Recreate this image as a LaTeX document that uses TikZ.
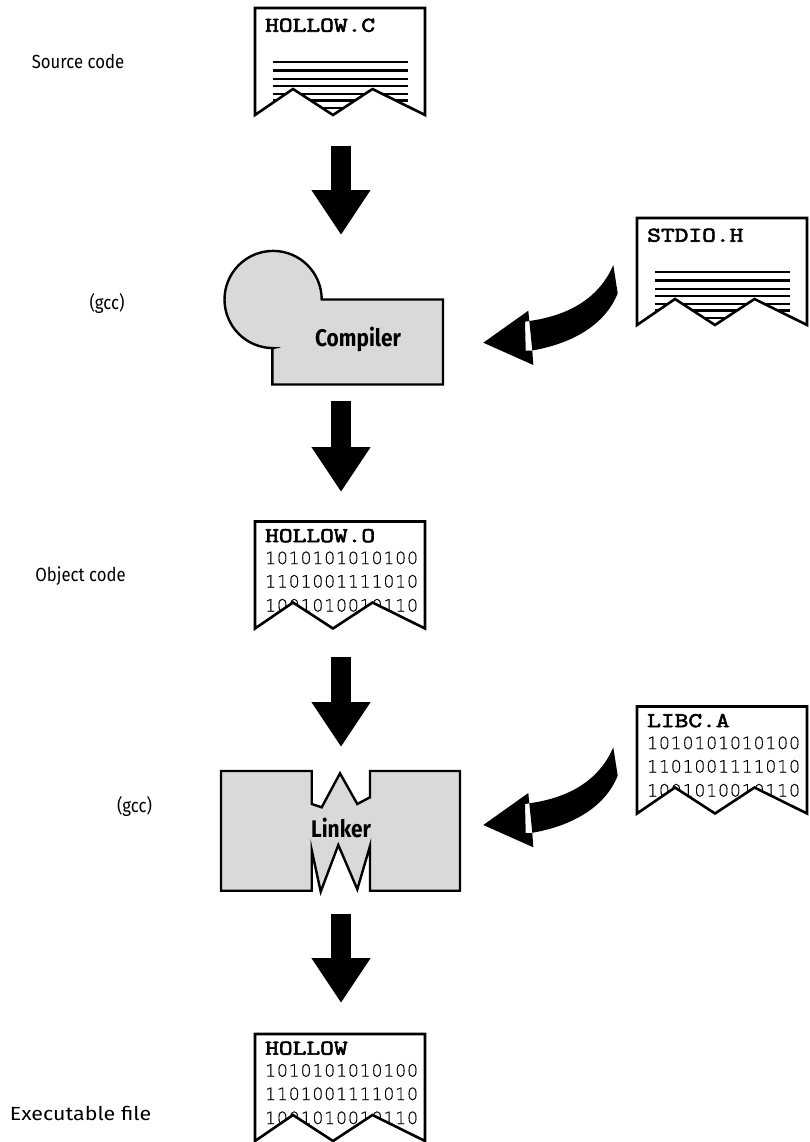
\documentclass[tikz,border=0pt]{standalone}
\usepackage{fontspec}
\usetikzlibrary{arrows.meta}
\setmainfont{Fira Sans}
\newfontfamily\labelfont[FakeStretch=0.88]{Fira Sans}
\newfontfamily\boldlabelfont[FakeStretch=0.87]{Fira Sans}
\newfontfamily\binfont[LetterSpace=6,FakeBold=0.4]{DejaVu Sans ExtraLight}
\newfontfamily\titlefont[FakeBold=3,FakeStretch=1.27]{Latin Modern Mono}
\definecolor{boxgray}{HTML}{D9D9D9}
\tikzset{
  docedge/.style={draw=black,line width=2.6pt,line join=miter},
  rule/.style={line width=2.1pt,black},
  doctitle/.style={anchor=base west,inner sep=0pt,font=\titlefont\fontsize{21}{21}\selectfont},
  binline/.style={anchor=base west,inner sep=0pt,text=black,font=\binfont\fontsize{17}{17}\selectfont},
  sidelabel/.style={anchor=base,inner sep=0pt,font=\labelfont\fontsize{19}{19}\selectfont},
  procbox/.style={draw=black,line width=2.4pt,fill=boxgray,line join=miter},
  proctext/.style={anchor=base,inner sep=0pt,font=\boldlabelfont\bfseries\fontsize{24}{24}\selectfont},
  bigarrow/.style={line width=20pt,-{Triangle[width=56pt,length=45pt]},black},
}
\newcommand{\docoutline}{(0,0) -- (170,0) -- (170,107) -- (117.5,81) -- (78,107) -- (38,81) -- (0,107) -- cycle}
\newcommand{\textdoc}[4]{% name, x, y, title
  \begin{scope}[shift={(#2,#3)}]
    \coordinate (#1) at (0,0);
    \fill[white] \docoutline;
    \begin{scope}
      \clip \docoutline;
      \foreach \ly in {54,62.5,71,78,86,92.5,100}
        \draw[rule] (18,\ly) -- (153,\ly);
    \end{scope}
    \node[doctitle] (#1title) at (10,23.7) {#4};
    \draw[docedge] \docoutline;
  \end{scope}}
\newcommand{\bindoc}[4]{% name, x, y, title
  \begin{scope}[shift={(#2,#3)}]
    \coordinate (#1) at (0,0);
    \fill[white] \docoutline;
    \begin{scope}
      \clip \docoutline;
      \node[binline] (#1a) at (10,42.6) {1010101010100};
      \node[binline] (#1b) at (10,66) {1101001111010};
      \node[binline] (#1c) at (10,90) {1001010010110};
    \end{scope}
    \node[doctitle] (#1title) at (10,20.6) {#4};
    \draw[docedge] \docoutline;
  \end{scope}}
\newcommand{\curvedarrow}[2]{% name, y shift
  \begin{scope}[shift={(0,#2)}]
    \coordinate (#1) at (0,0);
    \fill[black] (613.3,265) .. controls (600,296) and (572,315) .. (529.3,321)
      -- (532.3,350.5) .. controls (575,343) and (606,323) .. (617.7,293.3) -- cycle;
    \fill[black] (483.3,342.7) -- (528.3,310.7) -- (529.3,321) -- (525,321.7)
      -- (525.7,350.7) -- (532.3,350.7) -- (533.3,365) -- cycle;
  \end{scope}}
\begin{document}
\begin{tikzpicture}[x=1pt,y=-1pt]
\useasboundingbox (0,0) rectangle (809,1142);
\fill[white] (0,0) rectangle (809,1142);

\textdoc{hollowc}{255}{8}{HOLLOW.C}
\textdoc{stdio}{637}{218}{STDIO.H}
\bindoc{hollowo}{255}{521.5}{HOLLOW.O}
\bindoc{libc}{637}{706.5}{LIBC.A}
\bindoc{hollow}{255}{1034}{HOLLOW}

\draw[procbox] (272.3,348.3) -- (272.3,384.5) -- (443,384.5) -- (443,299.5) -- (321.7,299.5)
  arc[start angle=0,end angle=-270,radius=48.6] -- cycle;
\node[proctext] (compiler) at (358,346) {Compiler};

\draw[procbox] (221,771) -- (311.7,771) -- (311.7,804) -- (321.7,807.3) -- (340,773.3)
  -- (357.3,804) -- (370,797.3) -- (370,771) -- (460,771) -- (460,890.7) -- (370,890.7)
  -- (370,846) -- (357.3,889.3) -- (338.3,845) -- (320.7,891.7) -- (311.7,850)
  -- (311.7,890.7) -- (221,890.7) -- cycle;
\node[proctext] (linker) at (341,837.3) {Linker};

\coordinate (a1s) at (341,146); \coordinate (a1e) at (341,235);
\coordinate (a2s) at (341,401); \coordinate (a2e) at (341,492);
\coordinate (a3s) at (341,657); \coordinate (a3e) at (341,747);
\coordinate (a4s) at (341,914); \coordinate (a4e) at (341,1003);
\draw[bigarrow] (a1s) -- (a1e);
\draw[bigarrow] (a2s) -- (a2e);
\draw[bigarrow] (a3s) -- (a3e);
\draw[bigarrow] (a4s) -- (a4e);

\curvedarrow{ca1}{0}
\curvedarrow{ca2}{482.3}

\node[sidelabel] (l1) at (78,68.5) {Source code};
\node[sidelabel] (l2) at (107,309) {(gcc)};
\node[sidelabel] (l3) at (80.5,581.5) {Object code};
\node[sidelabel] (l4) at (134.5,812) {(gcc)};
\node[sidelabel] (l5) at (80.5,1120) {\scalebox{1.28}[1]{Executable file}};
\end{tikzpicture}
\end{document}
